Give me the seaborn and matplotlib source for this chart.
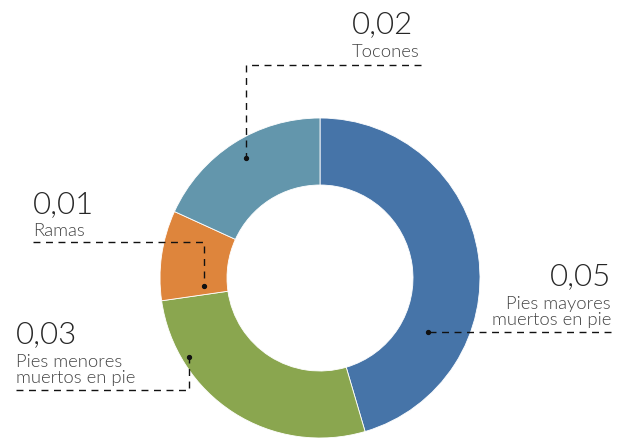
import matplotlib
matplotlib.use("Agg")
import matplotlib.pyplot as plt
import seaborn as sns

# Dead wood volume by component
categories = ["Pies mayores\nmuertos en pie", "Pies menores\nmuertos en pie", "Ramas", "Tocones"]
values = [0.05, 0.03, 0.01, 0.02]
colors = ["#4674A8", "#8AA64F", "#DE853C", "#6396AC"]

sns.set_theme(style="white")
plt.rcParams["font.family"] = ["Lato", "DejaVu Sans"]

W, H = 624, 438
fig = plt.figure(figsize=(W / 100, H / 100), dpi=100)
ax = fig.add_axes([0, 0, 1, 1])


def py(y):
    """Convert a top-down pixel row to the axis' bottom-up coordinate."""
    return H - y


cx, cy, r_out, r_in = 320, 278, 160, 93
ax.pie(values, colors=colors, startangle=90, counterclock=False,
       center=(cx, py(cy)), radius=r_out,
       wedgeprops=dict(width=r_out - r_in, edgecolor="white", linewidth=0.6))
ax.set_xlim(0, W)
ax.set_ylim(0, H)
ax.set_aspect("auto")
ax.axis("off")


def fmt(v):
    return f"{v:.2f}".replace(".", ",")


num_kw = dict(fontsize=22.5, fontweight=300, color="#262626")
lab_kw = dict(fontsize=13.3, fontweight=300, color="#444444", linespacing=1.02)
line_kw = dict(color="#111111", lw=1.0, ls=(0, (5, 4)))

# label layout: (number x, number baseline, label baseline, ha, leader path, dot)
layout = [
    dict(x=611, nb=285, lb=325, ha="right",
         path=[(611, 332), (428, 332)], dot=(428, 332)),
    dict(x=16, nb=343, lb=383, ha="left",
         path=[(16, 390), (189, 390), (189, 357)], dot=(189, 357)),
    dict(x=33, nb=213, lb=236, ha="left",
         path=[(33, 242), (204, 242), (204, 286)], dot=(204, 286)),
    dict(x=352, nb=33, lb=57, ha="left",
         path=[(421, 65), (246, 65), (246, 158)], dot=(246, 158)),
]

for cat, val, lay in zip(categories, values, layout):
    ax.text(lay["x"], py(lay["nb"]), fmt(val), ha=lay["ha"], va="baseline", **num_kw)
    ax.text(lay["x"], py(lay["lb"]), cat, ha=lay["ha"], va="baseline",
            multialignment=lay["ha"], **lab_kw)
    xs = [p[0] for p in lay["path"]]
    ys = [py(p[1]) for p in lay["path"]]
    ax.plot(xs, ys, **line_kw)
    ax.plot(lay["dot"][0], py(lay["dot"][1]), "o", color="#111111", ms=2.8)

fig.savefig("out.png", dpi=100)
